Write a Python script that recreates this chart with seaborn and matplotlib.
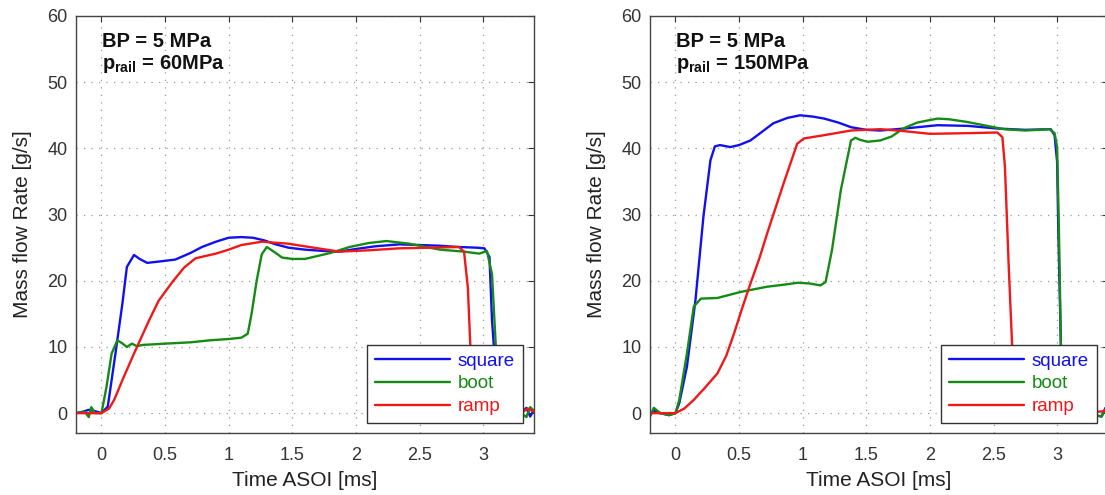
import matplotlib
matplotlib.use("Agg")
import matplotlib.pyplot as plt
import seaborn as sns

# ---------------- data ----------------
# Left panel: p_rail = 60 MPa
LS_t = [-0.2, -0.15, -0.1, -0.05, 0.0, 0.05, 0.11, 0.165, 0.2, 0.256, 0.3, 0.36, 0.45, 0.58, 0.7, 0.79,
        0.9, 1.0, 1.1, 1.19, 1.28, 1.37, 1.47, 1.6, 1.75, 1.87, 2.0, 2.15, 2.34, 2.5, 2.65, 2.81, 2.95,
        3.01, 3.05, 3.07, 3.1, 3.13, 3.2, 3.3, 3.34, 3.37, 3.4]
LS_v = [0.0, 0.2, 0.5, 0.3, 0.0, 1.0, 9.0, 16.6, 22.1, 23.9, 23.3, 22.7, 22.9, 23.2, 24.2, 25.1,
        25.9, 26.5, 26.6, 26.5, 26.1, 25.5, 25.0, 24.7, 24.5, 24.4, 24.8, 25.2, 25.5, 25.4, 25.3, 25.1, 25.0,
        24.9, 23.6, 14.0, 6.0, 0.5, -0.3, 0.0, 0.8, -0.5, 0.5]

LB_t = [-0.2, -0.13, -0.1, -0.08, -0.05, 0.0, 0.04, 0.08, 0.125, 0.16, 0.2, 0.24, 0.28, 0.32, 0.5, 0.7,
        0.85, 1.0, 1.1, 1.15, 1.18, 1.22, 1.26, 1.3, 1.37, 1.42, 1.5, 1.6, 1.8, 1.95, 2.1, 2.24, 2.42,
        2.66, 2.85, 2.97, 3.03, 3.07, 3.1, 3.13, 3.2, 3.3, 3.34, 3.37, 3.4]
LB_v = [0.0, 0.2, -0.6, 0.9, 0.0, 0.0, 4.0, 9.0, 11.0, 10.6, 10.0, 10.5, 10.1, 10.3, 10.5, 10.7,
        11.0, 11.2, 11.4, 12.0, 15.0, 20.0, 24.0, 25.1, 24.2, 23.5, 23.3, 23.3, 24.2, 25.1, 25.7, 26.0, 25.6,
        24.7, 24.4, 24.1, 24.5, 21.0, 10.0, 1.0, -0.3, 0.0, -0.6, 0.9, 0.3]

LR_t = [-0.2, -0.1, 0.0, 0.06, 0.1, 0.165, 0.256, 0.374, 0.45, 0.557, 0.65, 0.74, 0.9, 1.0, 1.1, 1.26,
        1.47, 1.6, 1.87, 2.1, 2.34, 2.6, 2.81, 2.85, 2.88, 2.9, 2.93, 2.96, 3.0, 3.2, 3.3, 3.35, 3.4]
LR_v = [0.0, 0.0, 0.0, 0.7, 2.0, 5.0, 9.0, 14.0, 17.0, 19.8, 22.0, 23.4, 24.1, 24.7, 25.4, 25.9,
        25.6, 25.2, 24.4, 24.6, 24.9, 25.0, 25.1, 24.4, 19.0, 10.0, 3.0, 0.5, 0.0, 0.0, 0.0, 0.7, 0.2]

# Right panel: p_rail = 150 MPa
RS_t = [-0.2, -0.17, -0.12, -0.05, 0.0, 0.03, 0.09, 0.157, 0.22, 0.275, 0.31, 0.35, 0.43, 0.5, 0.59,
        0.68, 0.77, 0.88, 0.98, 1.08, 1.17, 1.28, 1.38, 1.5, 1.61, 1.8, 2.06, 2.3, 2.53, 2.75, 2.95,
        2.98, 3.0, 3.01, 3.03, 3.05, 3.08, 3.2, 3.35, 3.38, 3.4]
RS_v = [-0.3, 0.4, 0.0, -0.3, 0.0, 1.5, 7.0, 17.0, 29.7, 38.2, 40.3, 40.5, 40.2, 40.5, 41.2,
        42.5, 43.8, 44.6, 45.0, 44.8, 44.5, 43.9, 43.2, 42.8, 42.7, 43.0, 43.5, 43.4, 43.0, 42.8, 42.9,
        42.0, 38.0, 27.0, 10.0, 2.0, 0.0, 0.0, -0.5, 0.8, 0.3]

RB_t = [-0.2, -0.17, -0.12, -0.05, 0.0, 0.03, 0.09, 0.144, 0.2, 0.33, 0.51, 0.72, 0.85, 0.96, 1.05,
        1.14, 1.18, 1.23, 1.30, 1.38, 1.415, 1.45, 1.51, 1.61, 1.7, 1.79, 1.9, 2.06, 2.15, 2.29, 2.45,
        2.58, 2.75, 2.94, 2.98, 3.0, 3.015, 3.03, 3.05, 3.08, 3.2, 3.35, 3.38, 3.4]
RB_v = [-0.5, 0.8, 0.0, -0.3, 0.0, 2.0, 9.0, 16.1, 17.3, 17.4, 18.3, 19.1, 19.4, 19.7, 19.6,
        19.3, 19.8, 24.6, 33.7, 41.2, 41.6, 41.3, 41.0, 41.2, 41.8, 43.0, 43.9, 44.5, 44.4, 44.0, 43.4,
        42.9, 42.7, 42.9, 42.3, 40.2, 27.0, 10.0, 2.0, 0.0, 0.0, -0.5, 0.6, 0.0]

RR_t = [-0.2, -0.1, 0.0, 0.07, 0.144, 0.23, 0.33, 0.4, 0.46, 0.52, 0.59, 0.66, 0.72, 0.85, 0.957,
        1.01, 1.17, 1.38, 1.61, 1.8, 2.0, 2.3, 2.53, 2.57, 2.59, 2.62, 2.647, 2.67, 2.7, 2.9, 3.2, 3.37, 3.4]
RR_v = [0.0, 0.0, 0.0, 0.7, 2.0, 3.8, 6.0, 8.7, 12.0, 15.6, 19.6, 23.4, 27.1, 34.7, 40.7,
        41.5, 42.0, 42.7, 42.9, 42.6, 42.2, 42.3, 42.4, 41.7, 37.2, 22.0, 10.0, 3.0, 0.5, 0.0, 0.0, 0.3, 0.8]

SERIES = ["square", "boot", "ramp"]
COLORS = ["#1010f0", "#158a15", "#f01818"]
XTICKS = [0, 0.5, 1, 1.5, 2, 2.5, 3]
XTICKLABELS = ["0", "0.5", "1", "1.5", "2", "2.5", "3"]
YTICKS = [0, 10, 20, 30, 40, 50, 60]
PANELS = [
    {"rail": "60MPa", "data": [(LS_t, LS_v), (LB_t, LB_v), (LR_t, LR_v)]},
    {"rail": "150MPa", "data": [(RS_t, RS_v), (RB_t, RB_v), (RR_t, RR_v)]},
]

# ---------------- style ----------------
sns.set_theme(style="white")
plt.rcParams["font.family"] = ["Liberation Sans", "DejaVu Sans"]
plt.rcParams["mathtext.fontset"] = "custom"
plt.rcParams["mathtext.rm"] = "Liberation Sans"
plt.rcParams["mathtext.bf"] = "Liberation Sans:bold"
plt.rcParams["mathtext.it"] = "Liberation Sans:italic"

fig = plt.figure(figsize=(11.05, 4.95), dpi=100)
W, H = 1105, 495
positions = [
    (76 / W, (H - 433) / H, 458 / W, 417 / H),
    (650 / W, (H - 433) / H, 458 / W, 417 / H),
]

for pos, panel in zip(positions, PANELS):
    ax = fig.add_axes(pos)
    for (t, v), name, col in zip(panel["data"], SERIES, COLORS):
        sns.lineplot(x=t, y=v, ax=ax, color=col, lw=1.7, label=name,
                     sort=False, estimator=None)
    ax.set_xlim(-0.2, 3.4)
    ax.set_ylim(-3, 60)
    ax.set_xticks(XTICKS)
    ax.set_xticklabels(XTICKLABELS)
    ax.set_yticks(YTICKS)
    ax.grid(True, color="#9a9a9a", linestyle=(0, (1, 5)), linewidth=0.9)
    ax.tick_params(direction="in", top=True, right=True, length=4, width=0.8,
                   colors="#333333", labelsize=13)
    ax.tick_params(axis="x", pad=10)
    ax.tick_params(axis="y", pad=6)
    for sp in ax.spines.values():
        sp.set_color("#444444")
        sp.set_linewidth(1.0)
    ax.set_xlabel("Time ASOI [ms]", fontsize=15, color="#222222", labelpad=5)
    ax.set_ylabel("Mass flow Rate [g/s]", fontsize=15, color="#222222", labelpad=11)
    ax.text(0.056, 0.962, "BP = 5 MPa", transform=ax.transAxes, ha="left", va="top",
            fontsize=14.5, fontweight="bold", color="#111111")
    ax.text(0.056, 0.912, r"p$_{\mathbf{rail}}$ = " + panel["rail"], transform=ax.transAxes,
            ha="left", va="top", fontsize=14.5, fontweight="bold", color="#111111")
    leg = ax.legend(loc="lower right", bbox_to_anchor=(0.976, 0.024), borderaxespad=0,
                    fancybox=False, frameon=True, fontsize=13.5, handlelength=4.0,
                    labelcolor="linecolor", labelspacing=0.3, borderpad=0.42,
                    handletextpad=0.45)
    leg.get_frame().set_edgecolor("#333333")
    leg.get_frame().set_linewidth(1.0)
    leg.get_frame().set_alpha(1.0)

fig.savefig("out.png", dpi=100)
